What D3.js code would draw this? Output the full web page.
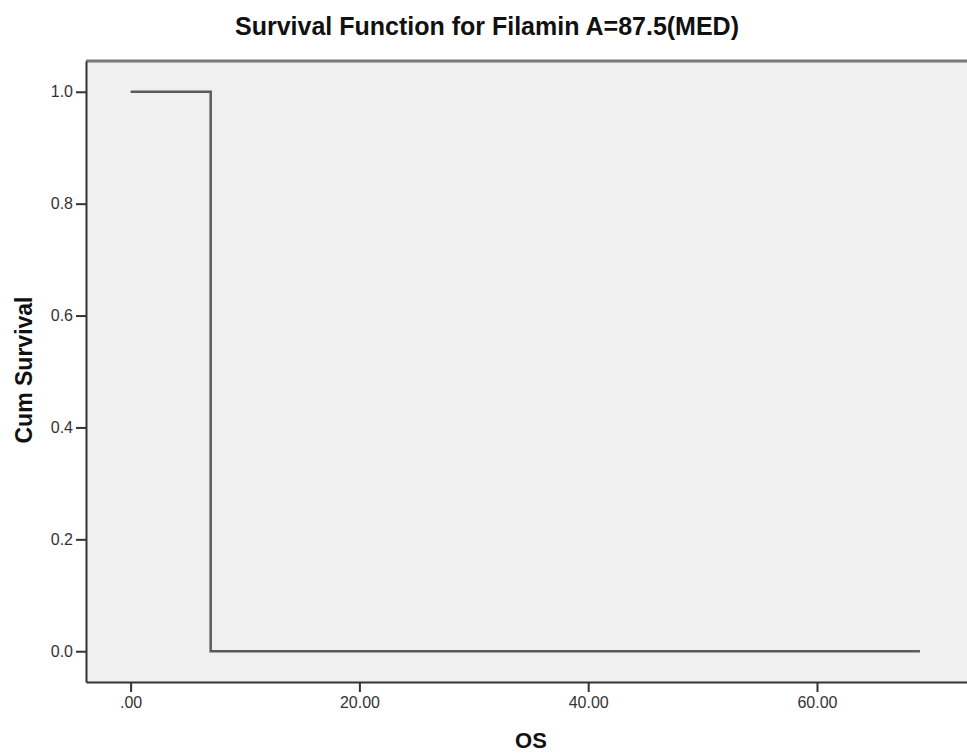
<!DOCTYPE html>
<html>
<head>
<meta charset="utf-8">
<script src="https://cdn.jsdelivr.net/npm/d3@7"></script>
<style>
  body { margin: 0; background: #fff; }
  svg { display: block; font-family: Arial, "Liberation Sans", sans-serif; }
</style>
</head>
<body>
<div id="chart"></div>
<script>
// survival data (step function)
var times = [0, 7, 69];
var survival = [1, 0, 0];

var xTicks = [0, 20, 40, 60];
var xTickLabels = [".00", "20.00", "40.00", "60.00"];
var yTicks = [0, 0.2, 0.4, 0.6, 0.8, 1.0];
var yTickLabels = ["0.0", "0.2", "0.4", "0.6", "0.8", "1.0"];

var titleText = "Survival Function for Filamin A=87.5(MED)";
var xLabel = "OS";
var yLabel = "Cum Survival";

// dimensions of the plot area
var width = 967, height = 753;
var margin = {top: 61, left: 86, bottom: 682, right: 976};

var svg = d3.select("#chart")
  .append("svg")
    .attr("width", width)
    .attr("height", height);

var x = d3.scaleLinear()
  .domain([-3.9, 73.9])
  .range([margin.left, margin.right]);

var y = d3.scaleLinear()
  .domain([-0.055, 1.055])
  .range([margin.bottom, margin.top]);

// panel background
svg.append("rect")
  .attr("x", margin.left)
  .attr("y", margin.top)
  .attr("width", margin.right - margin.left)
  .attr("height", margin.bottom - margin.top)
  .attr("fill", "#f0f0f0");

// top border (grey)
svg.append("line")
  .attr("x1", margin.left).attr("x2", margin.right)
  .attr("y1", margin.top).attr("y2", margin.top)
  .attr("stroke", "#7a7a7a")
  .attr("stroke-width", 3);

// X axis
var xAxis = svg.append("g")
  .attr("transform", "translate(0," + margin.bottom + ")")
  .call(d3.axisBottom(x)
    .tickValues(xTicks)
    .tickFormat(function(d, i) { return xTickLabels[i]; })
    .tickSize(10)
    .tickSizeOuter(0)
    .tickPadding(5));

// Y axis
var yAxis = svg.append("g")
  .attr("transform", "translate(" + margin.left + ",0)")
  .call(d3.axisLeft(y)
    .tickValues(yTicks)
    .tickFormat(function(d, i) { return yTickLabels[i]; })
    .tickSize(10)
    .tickSizeOuter(0)
    .tickPadding(3));

[xAxis, yAxis].forEach(function(g) {
  g.select(".domain").attr("stroke", "#333").attr("stroke-width", 2);
  g.selectAll(".tick line").attr("stroke", "#333").attr("stroke-width", 2);
  g.selectAll(".tick text")
    .attr("fill", "#333")
    .style("font-size", "16px")
    .style("font-family", "Arial, 'Liberation Sans', sans-serif");
});

// the survival step line
var data = times.map(function(t, i) { return {t: t, s: survival[i]}; });
svg.append("path")
  .datum(data)
  .attr("fill", "none")
  .attr("stroke", "#5a5a5a")
  .attr("stroke-width", 2.5)
  .attr("d", d3.line()
    .curve(d3.curveStepAfter)
    .x(function(d) { return x(d.t); })
    .y(function(d) { return y(d.s); }));

// title
svg.append("text")
  .attr("x", 487)
  .attr("y", 35)
  .attr("text-anchor", "middle")
  .style("font-size", "25px")
  .style("font-weight", "bold")
  .attr("fill", "#111")
  .text(titleText);

// axis labels
svg.append("text")
  .attr("x", 531)
  .attr("y", 748)
  .attr("text-anchor", "middle")
  .style("font-size", "22px")
  .style("font-weight", "bold")
  .attr("fill", "#111")
  .text(xLabel);

svg.append("text")
  .attr("transform", "translate(32,370) rotate(-90)")
  .attr("text-anchor", "middle")
  .style("font-size", "23px")
  .style("font-weight", "bold")
  .attr("fill", "#111")
  .text(yLabel);
</script>
</body>
</html>
